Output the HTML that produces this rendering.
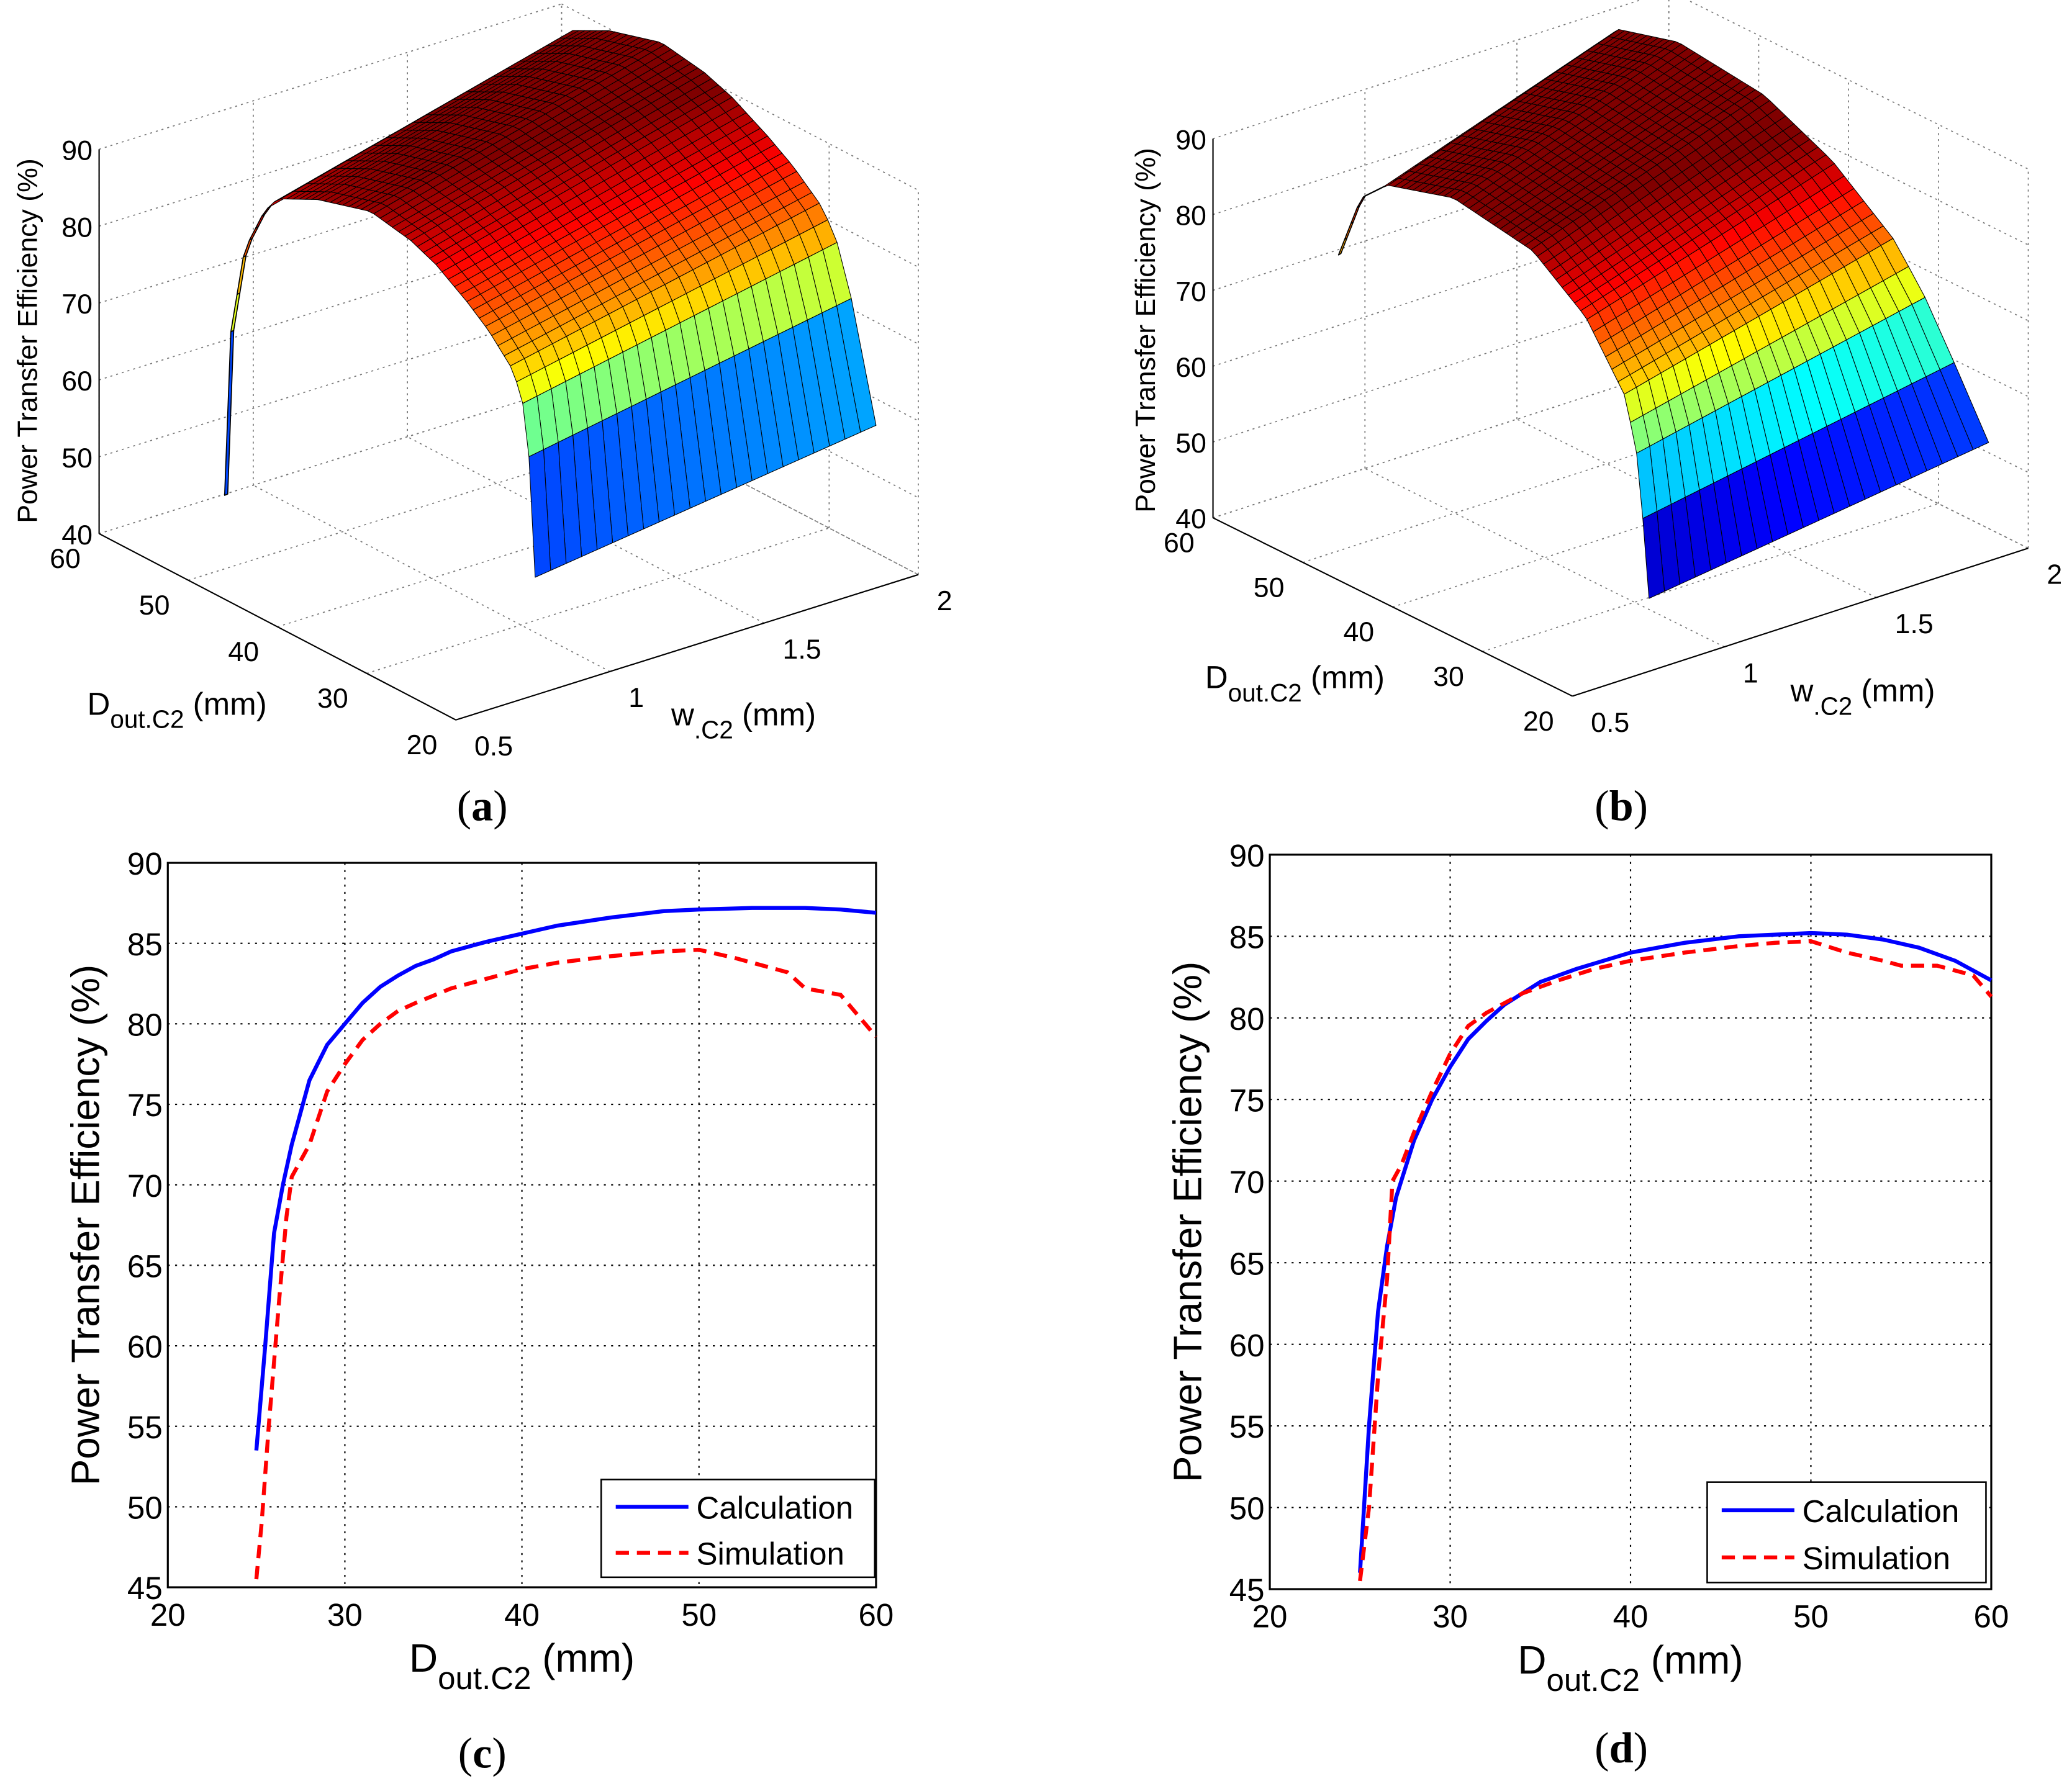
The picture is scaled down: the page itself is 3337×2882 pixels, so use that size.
<!DOCTYPE html>
<html><head><meta charset="utf-8"><style>
html,body{margin:0;padding:0;background:#fff;}
svg{display:block;}
text{font-family:"Liberation Sans",Arial,sans-serif;}
.cap{font-family:"Liberation Serif",serif;}
</style></head><body>
<svg id="fig" xmlns="http://www.w3.org/2000/svg" width="3337" height="2882" viewBox="0 0 1568.1 1354.3">
<rect x="0" y="0" width="1568.1" height="1354.3" fill="#fff"/>
<g id="pa"></g>
<g id="pb"></g>
<g id="pc"></g>
<g id="pd"></g>
<text class="cap" x="365" y="621" font-size="33" text-anchor="middle">(<tspan font-weight="bold">a</tspan>)</text>
<text class="cap" x="1227" y="621" font-size="33" text-anchor="middle">(<tspan font-weight="bold">b</tspan>)</text>
<text class="cap" x="365" y="1338" font-size="33" text-anchor="middle">(<tspan font-weight="bold">c</tspan>)</text>
<text class="cap" x="1227" y="1334" font-size="33" text-anchor="middle">(<tspan font-weight="bold">d</tspan>)</text>
</svg>
<script>
const NS="http://www.w3.org/2000/svg";
// ---- 2D chart data ----
const xTicks=[20,30,40,50,60];
const yTicks=[45,50,55,60,65,70,75,80,85,90];
const cCalcD=[25,25.5,26,26.5,27,28,29,30,31,32,33,34,35,36,38,40,42,45,48,50,53,56,58,60];
const cCalcE=[53.5,60,67,70,72.5,76.5,78.7,80,81.3,82.3,83,83.6,84,84.5,85.1,85.6,86.1,86.6,87,87.1,87.2,87.2,87.1,86.9];
const cSimD=[25,25.3,25.7,26,26.3,26.7,27,28,29,30,31,32,33,34,36,38,40,42,45,48,50,52,55,56,58,59,60];
const cSimE=[45.5,49,55,59,63,68,70.5,72.5,75.8,77.5,79,80,80.8,81.3,82.2,82.8,83.4,83.8,84.2,84.5,84.6,84.1,83.2,82.2,81.8,80.5,79.2];
const dCalcD=[25,25.5,26,26.5,27,28,29,30,31,32,33,35,37,40,43,46,48,50,52,54,56,58,60];
const dCalcE=[46,55,62,66,69,72.5,75,77,78.7,79.8,80.8,82.2,83,84,84.6,85,85.1,85.2,85.1,84.8,84.3,83.5,82.3];
const dSimD=[25,25.5,26,26.5,26.8,27.3,28,29,30,31,32,34,36,38,40,43,46,48,50,52,54,55,57,59,60];
const dSimE=[45.5,50,58,64,70,71,73,75.5,77.8,79.5,80.3,81.5,82.3,83,83.5,84,84.4,84.6,84.7,84,83.5,83.2,83.2,82.6,81.3];
// ---- surface profile data (efficiency-like height along D direction, back->front) ----
const aProfS=[0,0.02,0.064,0.128,0.17,0.3,0.47,0.6,0.68,0.78,0.85,0.92,0.957,0.98,1];
const aProfZ=[45,70,83,89.6,92,93.5,93.8,91,88.4,84,80.5,76,72,63,45];
const bProfS=[0,0.072,0.157,0.37,0.626,0.796,0.923,0.966,1];
const bProfZ=[72,81.7,85.3,87.7,85.1,78.9,69.9,61.1,42];
const zTicks=[40,50,60,70,80,90];
const dTicks3=[60,50,40,30,20];
const wTicks3=[0.5,1,1.5,2];

function el(tag,attrs,parent){const e=document.createElementNS(NS,tag);for(const k in attrs)e.setAttribute(k,attrs[k]);parent.appendChild(e);return e;}
function interp(xs,ys,x){if(x<=xs[0])return ys[0];for(let i=1;i<xs.length;i++){if(x<=xs[i]){const t=(x-xs[i-1])/(xs[i]-xs[i-1]);return ys[i-1]+t*(ys[i]-ys[i-1]);}}return ys[ys.length-1];}
function jet(t){t=Math.max(0,Math.min(1,t));const r=Math.max(0,Math.min(1,1.5-Math.abs(4*t-3)));const g=Math.max(0,Math.min(1,1.5-Math.abs(4*t-2)));const b=Math.max(0,Math.min(1,1.5-Math.abs(4*t-1)));return `rgb(${Math.round(r*255)},${Math.round(g*255)},${Math.round(b*255)})`;}

function chart2d(g,L,R,T,B,calcD,calcE,simD,simE,leg){
  const sx=v=>L+(v-20)/40*(R-L), sy=v=>B-(v-45)/45*(B-T);
  xTicks.forEach(v=>{const x=sx(v);
    if(v>20&&v<60){const gl=el('line',{x1:x,y1:T,x2:x,y2:B,stroke:'#000','stroke-width':1,'stroke-dasharray':'1.5,4'},g);}
    const t=el('text',{x:x,y:B+29,'font-size':24,'text-anchor':'middle'},g);t.textContent=v;});
  yTicks.forEach(v=>{const y=sy(v);
    if(v>45&&v<90){const gl=el('line',{x1:L,y1:y,x2:R,y2:y,stroke:'#000','stroke-width':1,'stroke-dasharray':'1.5,4'},g);}
    const t=el('text',{x:L-4,y:y+9,'font-size':24,'text-anchor':'end'},g);t.textContent=v;});
  const fr=el('rect',{x:L,y:T,width:R-L,height:B-T,fill:'none',stroke:'#000','stroke-width':1.5},g);
  const pc=el('polyline',{points:calcD.map((d,i)=>sx(d)+','+sy(calcE[i])).join(' '),fill:'none',stroke:'#0000ff','stroke-width':3},g);
  
  const ps=el('polyline',{points:simD.map((d,i)=>sx(d)+','+sy(simE[i])).join(' '),fill:'none',stroke:'#ff0000','stroke-width':3,'stroke-dasharray':'10,6'},g);
  
  const lg=el('g',{},g);
  el('rect',{x:leg[0],y:leg[1],width:leg[2]-leg[0],height:leg[3]-leg[1],fill:'#fff',stroke:'#000','stroke-width':1.2},lg);
  const h=(leg[3]-leg[1]);
  el('line',{x1:leg[0]+11,x2:leg[0]+66,y1:leg[1]+h*0.28,y2:leg[1]+h*0.28,stroke:'#0000ff','stroke-width':3},lg);
  el('line',{x1:leg[0]+11,x2:leg[0]+66,y1:leg[1]+h*0.75,y2:leg[1]+h*0.75,stroke:'#ff0000','stroke-width':3,'stroke-dasharray':'10,6'},lg);
  let t=el('text',{x:leg[0]+72,y:leg[1]+h*0.28+9,'font-size':24},lg);t.textContent='Calculation';
  t=el('text',{x:leg[0]+72,y:leg[1]+h*0.75+9,'font-size':24},lg);t.textContent='Simulation';
  const xl=el('text',{x:(L+R)/2,y:B+64,'font-size':30,'text-anchor':'middle'},g);
  xl.innerHTML='D<tspan font-size="24" dy="13">out.C2</tspan><tspan dy="-13"> (mm)</tspan>';
  
  const yl=el('text',{x:0,y:0,'font-size':30,'text-anchor':'middle',transform:`translate(${L-52},${(T+B)/2}) rotate(-90)`},g);
  yl.textContent='Power Transfer Efficiency (%)';
}
chart2d(document.getElementById('pc'),127,663,653.2,1201.6,cCalcD,cCalcE,cSimD,cSimE,[455,1120,662,1194]);
chart2d(document.getElementById('pd'),961,1507,647,1203,dCalcD,dCalcE,dSimD,dSimE,[1292,1122,1503,1198]);

function surf(g,cfg){
  const O=cfg.origin, Dv=cfg.dvec, Wv=cfg.wvec, H=cfg.zh;
  const P=(d,w,z)=>{const a=(d-20)/40, b=(w-0.5)/1.5, c=(z-40)/50;return [O[0]+a*Dv[0]+b*Wv[0], O[1]+a*Dv[1]+b*Wv[1]-c*H];};
  const dl=(p,q,dash)=>{const l=el('line',{x1:p[0],y1:p[1],x2:q[0],y2:q[1],stroke:dash?'#777':'#000','stroke-width':dash?0.8:1,'stroke-dasharray':dash?'1.5,3':'none'},g);};
  zTicks.forEach(z=>{dl(P(60,0.5,z),P(60,2,z),1);dl(P(60,2,z),P(20,2,z),1);});
  dTicks3.forEach(d=>{dl(P(d,2,40),P(d,2,90),1);dl(P(d,0.5,40),P(d,2,40),1);});
  wTicks3.forEach(w=>{dl(P(60,w,40),P(60,w,90),1);dl(P(20,w,40),P(60,w,40),1);});
  dl(P(60,0.5,40),P(60,0.5,90),0);dl(P(60,0.5,40),P(20,0.5,40),0);dl(P(20,0.5,40),P(20,2,40),0);
  zTicks.forEach(z=>{const p=P(60,0.5,z);const t=el('text',{x:p[0]-5,y:p[1]+8,'font-size':21,'text-anchor':'end'},g);t.textContent=z;});
  dTicks3.forEach(d=>{const p=P(d,0.5,40);const t=el('text',{x:p[0]-14,y:p[1]+26,'font-size':21,'text-anchor':'end'},g);t.textContent=d;});
  wTicks3.forEach(w=>{const p=P(20,w,40);const t=el('text',{x:p[0]+14,y:p[1]+27,'font-size':21,'text-anchor':'start'},g);t.textContent=w;});
  let t=el('text',{x:cfg.dlab[0],y:cfg.dlab[1],'font-size':24},g);t.innerHTML='D<tspan font-size="19" dy="10">out.C2</tspan><tspan dy="-10"> (mm)</tspan>';
  t=el('text',{x:cfg.wlab[0],y:cfg.wlab[1],'font-size':24},g);t.innerHTML='w<tspan font-size="19" dy="10">.C2</tspan><tspan dy="-10"> (mm)</tspan>';
  t=el('text',{x:0,y:0,'font-size':21,'text-anchor':'middle',transform:`translate(${cfg.zlab[0]},${cfg.zlab[1]}) rotate(-90)`},g);t.textContent='Power Transfer Efficiency (%)';
  const S0=cfg.s0, sv=cfg.svec, k=cfg.kz;
  const zr=Math.max(...cfg.pz);
  const Q=(s,v,z)=>{const f=Math.max(0,Math.min(1,(z-cfg.zlo)/(zr-cfg.zlo)));
    const vx=cfg.vbot[0]+(cfg.vtop[0]-cfg.vbot[0])*f, vy=cfg.vbot[1]+(cfg.vtop[1]-cfg.vbot[1])*f;
    return [S0[0]+s*sv[0]+v*vx, S0[1]+s*sv[1]+v*vy-(z-cfg.zbase)*k];};
  const ns=50, nv=22;
  const sg=el('g',{},g);
  for(let i=0;i<ns;i++){
    const s1=i/ns, s2=(i+1)/ns;
    const z1=interp(cfg.ps,cfg.pz,s1), z2=interp(cfg.ps,cfg.pz,s2);
    const back=s2<=cfg.sridge;
    for(let j=nv-1;j>=0;j--){
      if(back&&j>0)continue;
      const v1=j/nv, v2=back?0.2/nv:(j+1)/nv;
      const pts=[Q(s1,v1,z1),Q(s1,v2,z1),Q(s2,v2,z2),Q(s2,v1,z2)];
      const zc=Math.min(z1,z2)+v1*cfg.vz;
      const q=el('polygon',{points:pts.map(p=>p.join(',')).join(' '),fill:jet((zc-cfg.cmin)/(cfg.cmax-cfg.cmin)),stroke:'#000','stroke-width':back?0.8:0.5,'stroke-linejoin':'round'},sg);
      
      
    }
  }
}
surf(document.getElementById('pa'),{origin:[345,545],dvec:[-270,-141],wvec:[350,-110],zh:291,
  dlab:[66,541],wlab:[508,549],zlab:[28,258],
  s0:[170,400],svec:[235,62],vbot:[258,-115],vtop:[220,-128],zlo:45,kz:5.0,zbase:40,ps:aProfS,pz:aProfZ,sridge:0.14,vz:6,cmin:33,cmax:95});
surf(document.getElementById('pb'),{origin:[1190,527],dvec:[-272,-135],wvec:[345,-112],zh:287,
  dlab:[912,521],wlab:[1355,531],zlab:[874,250],
  s0:[1013,359.4],svec:[235,104],vbot:[257,-118],vtop:[170,-118],zlo:42,kz:5.2,zbase:40,ps:bProfS,pz:bProfZ,sridge:0.14,vz:5,cmin:38,cmax:86});
</script>
</body></html>
